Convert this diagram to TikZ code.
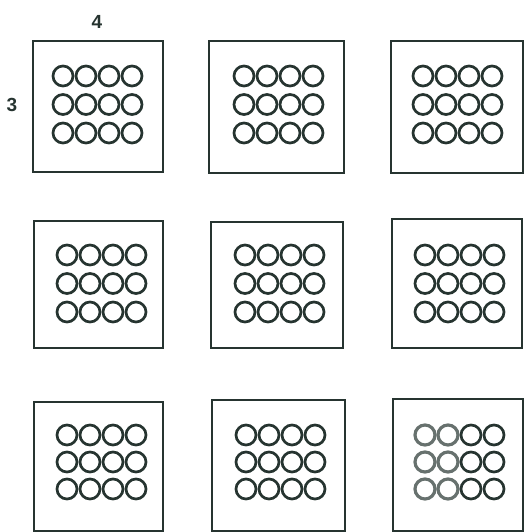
\documentclass[tikz,border=0pt]{standalone}
\usepackage{fontspec}
\setmainfont{Liberation Sans}
\definecolor{ink}{RGB}{38,52,48}
\begin{document}
\begin{tikzpicture}[x=1pt,y=-1pt,
  box/.style={draw=ink,line width=2.7pt,fill=white,inner sep=0pt,rectangle},
  hole/.style={draw=ink,line width=2.7pt,circle,inner sep=0pt,minimum size=20pt},
  blurhole/.style={draw=ink!70,line width=3.2pt,circle,inner sep=0pt,minimum size=20pt},
  lab/.style={text=ink,font=\fontsize{19}{19}\selectfont\bfseries,inner sep=0pt}]
\useasboundingbox (0,0) rectangle (524,532);
\fill[white] (0,0) rectangle (524,532);
\foreach \n/\l/\t/\rr/\b/\cx/\cy/\dy/\k in {
  a/33/41/163/172/63/76/28.5/0,
  b/209/41/344/173/244/76/28.5/0,
  c/391/41/523/173/423/76/28.5/0,
  d/34/221/163/348/67/255/28.5/0,
  e/211/222/343/348/245/255/28.5/0,
  f/392/219/522/348/425/255/28.5/0,
  g/34/402/163/531/67/435/27/0,
  h/212/400/345/531/246/435/27/0,
  i/393/399/523/531/425/435/27/2}
{
  \node[box,minimum width={\rr-\l},minimum height={\b-\t}] (\n) at ({(\l+\rr)/2},{(\t+\b)/2}) {};
  \foreach \i in {0,1,2,3}{
    \foreach \j in {0,1,2}{
      \ifnum\i<\k\relax
        \node[blurhole] (\n-\i-\j) at ({\cx+23*\i},{\cy+\dy*\j}) {};
      \else
        \node[hole] (\n-\i-\j) at ({\cx+23*\i},{\cy+\dy*\j}) {};
      \fi
    }
  }
}
\node[lab] (cols) at (97,22) {4};
\node[lab] (rows) at (12,105) {3};
\end{tikzpicture}
\end{document}
